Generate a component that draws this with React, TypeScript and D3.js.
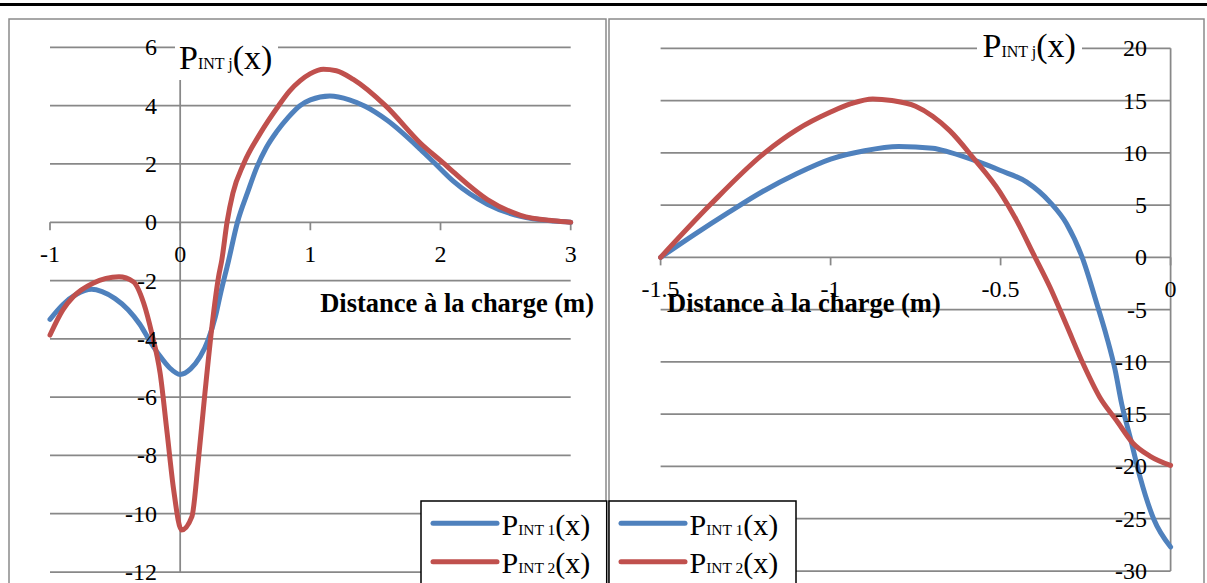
import React from "react";
import * as d3 from "d3";

// ---------- data ----------
const leftXTicks = [-1, 0, 1, 2, 3];
const leftYTicks = [-12, -10, -8, -6, -4, -2, 0, 2, 4, 6];
const rightXTicks = [-1.5, -1, -0.5, 0];
const rightYTicks = [-30, -25, -20, -15, -10, -5, 0, 5, 10, 15, 20];

const leftBlueX = [-1, -0.9, -0.8, -0.68, -0.6, -0.5, -0.4, -0.31, -0.23, -0.154, -0.08, 0, 0.08, 0.154, 0.218, 0.27, 0.31, 0.37, 0.44, 0.52, 0.59, 0.66, 0.74, 0.83, 0.92, 1.0, 1.15, 1.3, 1.42, 1.59, 1.846, 1.95, 2.1, 2.36, 2.615, 2.87, 3.0];
const leftBlueY = [-3.33, -2.82, -2.48, -2.3, -2.38, -2.62, -3.0, -3.5, -4.1, -4.6, -5.0, -5.22, -5.03, -4.61, -4.0, -3.25, -2.45, -1.35, 0, 1.05, 1.9, 2.55, 3.1, 3.6, 4.0, 4.2, 4.33, 4.2, 3.98, 3.5, 2.5, 2.05, 1.4, 0.62, 0.2, 0.04, 0];

const leftRedX = [-1, -0.9, -0.82, -0.67, -0.47, -0.36, -0.28, -0.218, -0.154, -0.1, -0.05, 0.01, 0.09, 0.14, 0.19, 0.244, 0.295, 0.32, 0.36, 0.405, 0.487, 0.615, 0.756, 0.84, 0.92, 1.0, 1.1, 1.2, 1.33, 1.577, 1.846, 2.03, 2.1, 2.36, 2.615, 2.87, 3.0];
const leftRedY = [-3.87, -3.0, -2.55, -2.09, -1.87, -2.04, -2.78, -3.81, -5.18, -7.24, -9.18, -10.56, -10.1, -8.15, -5.87, -3.58, -1.87, -1.29, 0, 1.0, 2.0, 3.05, 4.0, 4.5, 4.85, 5.1, 5.25, 5.2, 4.9, 4.0, 2.71, 2.0, 1.72, 0.78, 0.24, 0.05, 0];

const rightBlueX = [-1.5, -1.4, -1.3, -1.2, -1.1, -1.0, -0.9, -0.8, -0.7, -0.649, -0.57, -0.502, -0.423, -0.355, -0.306, -0.26, -0.217, -0.188, -0.163, -0.144, -0.119, -0.09, -0.05, 0];
const rightBlueY = [0, 2.2, 4.3, 6.3, 8.0, 9.4, 10.2, 10.6, 10.45, 10.05, 9.2, 8.33, 7.2, 5.29, 3.22, 0, -4.43, -7.6, -10.8, -14.0, -17.2, -21.0, -25.0, -27.7];

const rightRedX = [-1.5, -1.355, -1.194, -1.1, -1.0, -0.94, -0.876, -0.82, -0.75, -0.7, -0.649, -0.58, -0.502, -0.453, -0.404, -0.355, -0.306, -0.257, -0.208, -0.159, -0.11, -0.061, 0];
const rightRedY = [0, 5.0, 10.0, 12.2, 13.9, 14.7, 15.15, 15.0, 14.45, 13.5, 12.1, 9.5, 6.25, 3.54, 0.35, -2.84, -6.5, -10.2, -13.4, -15.6, -17.8, -19.0, -19.9];

const seriesIds = ["1", "2"];
const seriesColors = ["#4F81BD", "#C0504D"];
const xTitle = "Distance à la charge (m)";

// ---------- layout ----------
const W = 1207;
const H = 583;
const FONT = "'Liberation Serif', 'Times New Roman', serif";
const GRID = "#888888";

const xL = d3.scaleLinear().domain([-1, 3]).range([50, 570.7]);
const yL = d3.scaleLinear().domain([-12, 6]).range([572, 47.4]);
const xR = d3.scaleLinear().domain([-1.5, 0]).range([660.6, 1170.6]);
const yR = d3.scaleLinear().domain([-30, 20]).range([571, 48.3]);

function pts(xs: number[], ys: number[]): [number, number][] {
  return xs.map((x, i) => [x, ys[i]]);
}

function makeLine(xs: d3.ScaleLinear<number, number>, ys: d3.ScaleLinear<number, number>) {
  return d3
    .line<[number, number]>()
    .x((d) => xs(d[0]))
    .y((d) => ys(d[1]))
    .curve(d3.curveMonotoneX);
}

function PTitle({ x, y, big, small, sub }: { x: number; y: number; big: number; small: number; sub: string }) {
  return (
    <text x={x} y={y} fontFamily={FONT} fill="#000">
      <tspan fontSize={big}>P</tspan>
      <tspan fontSize={small}>{sub}</tspan>
      <tspan fontSize={big}>(x)</tspan>
    </text>
  );
}

function Chart({
  xs,
  ys,
  xTicks,
  yTicks,
  series,
  yLabelX,
  titleX,
  titleY,
  titleBox,
  axisTitleX,
  axisTitleAnchor,
}: {
  xs: d3.ScaleLinear<number, number>;
  ys: d3.ScaleLinear<number, number>;
  xTicks: number[];
  yTicks: number[];
  series: [number, number][][];
  yLabelX: number;
  titleX: number;
  titleY: number;
  titleBox: [number, number, number, number];
  axisTitleX: number;
  axisTitleAnchor: "start" | "end";
}) {
  const [x0, x1] = xs.range();
  const [yb, yt] = ys.range();
  const y0 = ys(0);
  const xa = xs(0);
  const line = makeLine(xs, ys);
  return (
    <g>
      {yTicks.map((t) => (
        <line key={"g" + t} x1={x0} x2={x1} y1={ys(t)} y2={ys(t)} stroke={GRID} strokeWidth={1.75} />
      ))}
      <line x1={xa} x2={xa} y1={yt} y2={yb} stroke={GRID} strokeWidth={1.75} />
      {xTicks.map((t) => (
        <line key={"t" + t} x1={xs(t)} x2={xs(t)} y1={y0} y2={y0 + 8} stroke={GRID} strokeWidth={1.75} />
      ))}
      <rect x={titleBox[0]} y={titleBox[1]} width={titleBox[2]} height={titleBox[3]} fill="#fff" />
      <PTitle x={titleX} y={titleY} big={34} small={16} sub="INT j" />
      {series.map((s, i) => (
        <path key={"s" + i} d={line(s) || ""} fill="none" stroke={seriesColors[i]} strokeWidth={5} strokeLinejoin="round" strokeLinecap="round" />
      ))}
      {yTicks.map((t) => (
        <text key={"yl" + t} x={yLabelX} y={ys(t) + 8} textAnchor="end" fontFamily={FONT} fontSize={24} fill="#000">
          {String(t)}
        </text>
      ))}
      {xTicks.map((t) => (
        <text key={"xl" + t} x={xs(t)} y={y0 + 40} textAnchor="middle" fontFamily={FONT} fontSize={24} fill="#000">
          {String(t)}
        </text>
      ))}
      <text x={axisTitleX} y={312} textAnchor={axisTitleAnchor} fontFamily={FONT} fontSize={26.5} fontWeight="bold" fill="#000">
        {xTitle}
      </text>
    </g>
  );
}

function Legend({ x, y, w }: { x: number; y: number; w: number }) {
  return (
    <g>
      <rect x={x} y={y} width={w} height={120} fill="#fff" stroke="#000" strokeWidth={1.5} />
      {seriesIds.map((id, i) => {
        const ly = y + 22.3 + i * 38.4;
        return (
          <g key={id}>
            <line x1={x + 12} x2={x + 76} y1={ly} y2={ly} stroke={seriesColors[i]} strokeWidth={5} strokeLinecap="round" />
            <PTitle x={x + 80.5} y={ly + 11.5} big={30} small={15.5} sub={"INT " + id} />
          </g>
        );
      })}
    </g>
  );
}

export default function App() {
  return (
    <svg width={W} height={H} viewBox={`0 0 ${W} ${H}`} style={{ position: "absolute", left: 0, top: 0, background: "#fff" }}>
      <rect x={0} y={0} width={W} height={H} fill="#fff" />
      <line x1={0} x2={W} y1={4.5} y2={4.5} stroke="#000" strokeWidth={3} />
      <rect x={9} y={19} width={597} height={620} fill="none" stroke="#8a8a8a" strokeWidth={1.5} />
      <rect x={609} y={19} width={595} height={620} fill="none" stroke="#8a8a8a" strokeWidth={1.5} />
      <Chart
        xs={xL}
        ys={yL}
        xTicks={leftXTicks}
        yTicks={leftYTicks}
        series={[pts(leftBlueX, leftBlueY), pts(leftRedX, leftRedY)]}
        yLabelX={157}
        titleX={179}
        titleY={69}
        titleBox={[175, 30, 103, 50]}
        axisTitleX={594}
        axisTitleAnchor="end"
      />
      <Chart
        xs={xR}
        ys={yR}
        xTicks={rightXTicks}
        yTicks={rightYTicks}
        series={[pts(rightBlueX, rightBlueY), pts(rightRedX, rightRedY)]}
        yLabelX={1147}
        titleX={982.5}
        titleY={57}
        titleBox={[977, 30, 105, 34]}
        axisTitleX={667}
        axisTitleAnchor="start"
      />
      <Legend x={421} y={501} w={185.7} />
      <Legend x={609} y={501} w={187} />
    </svg>
  );
}
